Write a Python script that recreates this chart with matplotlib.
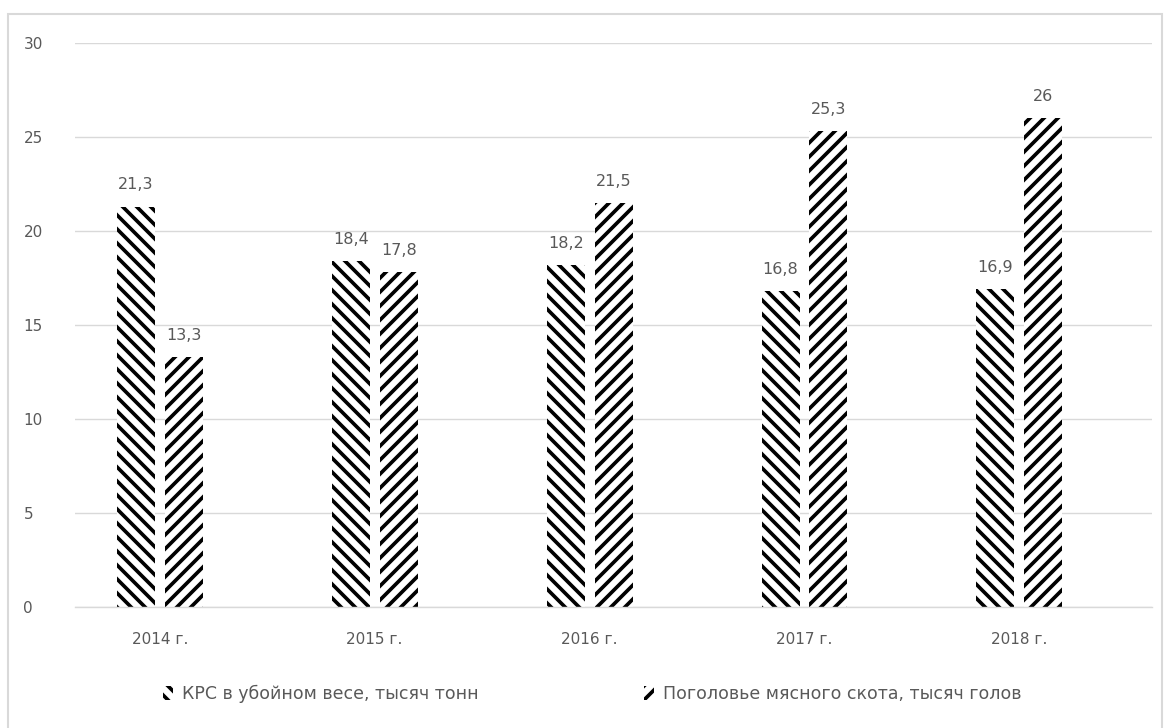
import numpy as np
import matplotlib
matplotlib.use('Agg')
import matplotlib.pyplot as plt
from matplotlib.patches import Rectangle

years = ['2014 г.', '2015 г.', '2016 г.', '2017 г.', '2018 г.']
krs = [21.3, 18.4, 18.2, 16.8, 16.9]
cattle = [13.3, 17.8, 21.5, 25.3, 26]
names = ['КРС в убойном весе, тысяч тонн', 'Поголовье мясного скота, тысяч голов']

# hatch spacing follows dpi, so render at 126 dpi and scale sizes down
DPI = 126
S = 100 / DPI

plt.rcParams['font.family'] = ['DejaVu Sans']
plt.rcParams['hatch.linewidth'] = 2.1
plt.rcParams['hatch.color'] = 'black'
grey = '#595959'

fig = plt.figure(figsize=(1170 / DPI, 728 / DPI), dpi=DPI)
fig.patches.append(Rectangle((0.007, -0.05), 0.986, 1.031, transform=fig.transFigure,
                             fill=False, edgecolor='#d9d9d9', linewidth=1.5 * S))
ax = fig.add_axes([0.064, 0.166, 0.921, 0.775])

x = np.arange(len(years))
w = 0.177
gap = 0.023
b1 = ax.bar(x - w / 2 - gap, krs, w, color='white', edgecolor='black', linewidth=0,
            hatch='\\\\\\', label=names[0])
b2 = ax.bar(x + w / 2 + gap, cattle, w, color='white', edgecolor='black', linewidth=0,
            hatch='///', label=names[1])

def fmt(v):
    return ('%g' % v).replace('.', ',')

for bars, vals in [(b1, krs), (b2, cattle)]:
    for r, v in zip(bars, vals):
        ax.text(r.get_x() + r.get_width() / 2, v + 0.75, fmt(v), ha='center', va='bottom',
                fontsize=11.5 * S, color=grey)

ax.set_ylim(0, 30)
ax.set_xlim(-0.395, 4.619)
ax.set_yticks(range(0, 31, 5))
ax.set_xticks(x)
ax.set_xticklabels(years)
ax.tick_params(axis='both', length=0, colors=grey, labelsize=11 * S)
ax.tick_params(axis='x', pad=18 * S)
for lbl in ax.get_yticklabels():
    lbl.set_horizontalalignment('left')
    lbl.set_x(-0.042)
ax.grid(axis='y', color='#d9d9d9', linewidth=1 * S)
ax.set_axisbelow(True)
for s in ['top', 'right', 'left']:
    ax.spines[s].set_visible(False)
ax.spines['bottom'].set_color('#d9d9d9')
ax.spines['bottom'].set_linewidth(1 * S)

leg = ax.legend(loc='upper center', bbox_to_anchor=(0.48, -0.11), ncol=2, frameon=False,
                fontsize=12.5 * S, handlelength=0.6, handleheight=0.9, columnspacing=9.5,
                handletextpad=0.5)
for t in leg.get_texts():
    t.set_color(grey)

fig.savefig('out.png', dpi=DPI)
